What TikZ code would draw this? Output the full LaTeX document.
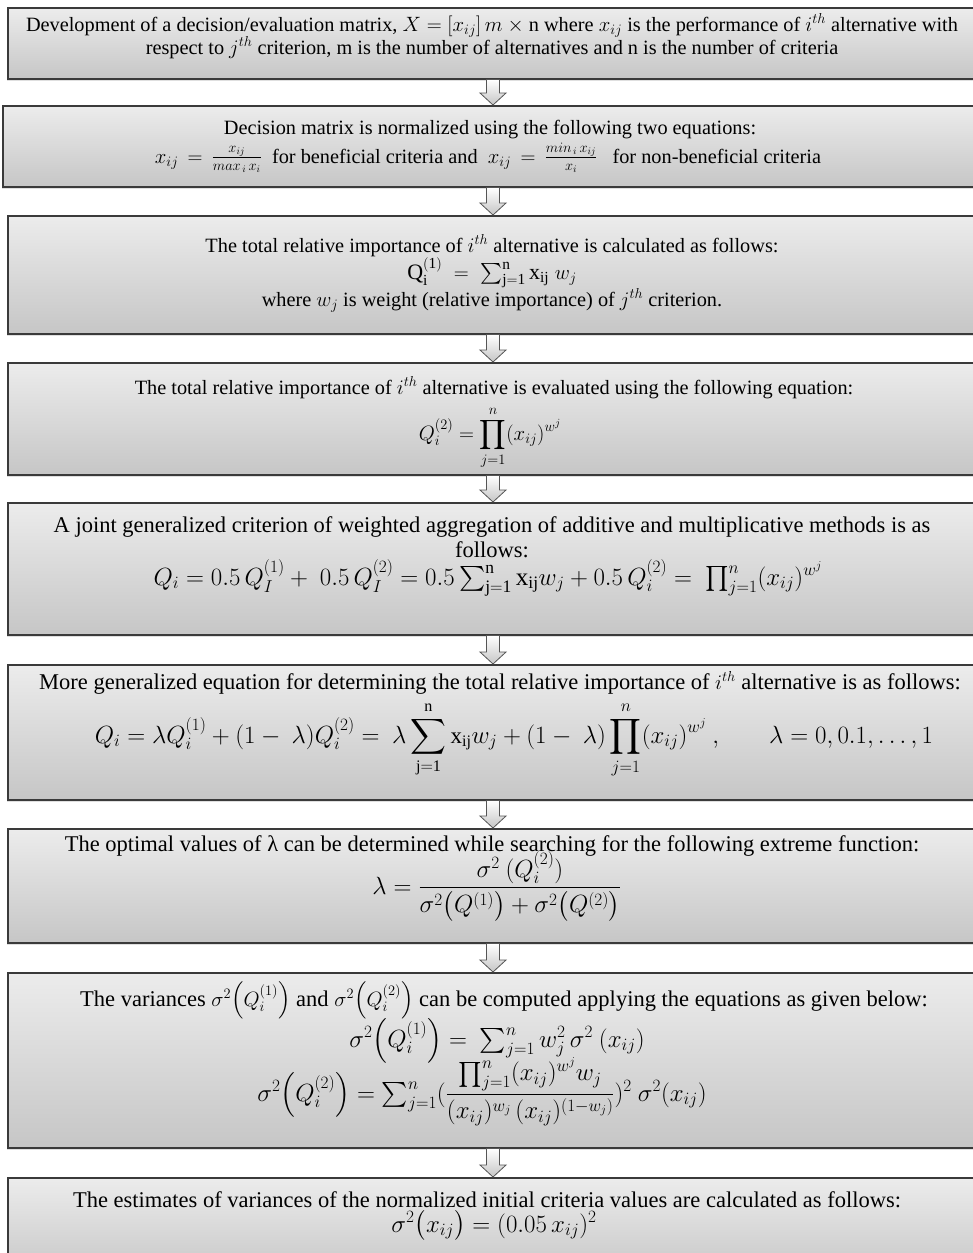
\documentclass[tikz,border=0pt]{standalone}
\usepackage{amsmath}
\usepackage{fontspec}
\setmainfont{Liberation Serif}
\usetikzlibrary{calc,shadows}
\definecolor{boxtop}{HTML}{ECECEC}
\definecolor{boxbot}{HTML}{C6C6C6}
\definecolor{boxline}{HTML}{3A3A3A}
\definecolor{arrline}{HTML}{555555}
\begin{document}
\begin{tikzpicture}[x=1pt,y=-1pt,
  box/.style={draw=boxline, line width=1.5pt, top color=boxtop, bottom color=boxbot,
    minimum width=970pt, anchor=north, inner sep=0pt,
    drop shadow={shadow xshift=-1.5pt, shadow yshift=-2pt, opacity=0.25}},
  tla/.style={font=\fontsize{20.3}{24}\selectfont, inner sep=0pt, anchor=base},
  tlb/.style={font=\fontsize{22.5}{27}\selectfont, inner sep=0pt, anchor=base},
  fs/.style={font=\fontsize{#1}{#1}\selectfont, inner sep=0pt, anchor=base},
  flowarr/.style={draw=arrline, line width=0.8pt, top color=white, bottom color=gray!45}]
\useasboundingbox (0,0) rectangle (973,1253);
\clip (0,0) rectangle (973,1253);
% boxes
\node[box, minimum height=71pt] (b1) at (493,7) {};
\node[box, minimum height=81pt, minimum width=980pt] (b2) at (493,105) {};
\node[box, minimum height=118pt] (b3) at (493,215) {};
\node[box, minimum height=112pt] (b4) at (493,362) {};
\node[box, minimum height=132pt] (b5) at (493,502) {};
\node[box, minimum height=135pt] (b6) at (493,664) {};
\node[box, minimum height=114pt] (b7) at (493,828) {};
\node[box, minimum height=175pt] (b8) at (493,972) {};
\node[box, minimum height=100pt] (b9) at (493,1177) {};
% arrows
\foreach \a/\b in {b1/b2,b2/b3,b3/b4,b4/b5,b5/b6,b6/b7,b7/b8,b8/b9}{
  \draw[flowarr] let \p1=(\a.south), \p2=(\b.north) in
    (\x1-6.5pt,\y1) -- (\x1-6.5pt,\y2+12pt) -- (\x1-13pt,\y2+12pt) -- (\x1,\y2)
    -- (\x1+13pt,\y2+12pt) -- (\x1+6.5pt,\y2+12pt) -- (\x1+6.5pt,\y1) -- cycle;
}
% box 1
\node[tla] (t1a) at (492,31) {Development of a decision/evaluation matrix, $X=\left[x_{ij}\right] m\ \times$ n where $x_{ij}$ is the performance of $i^{th}$ alternative with};
\node[tla] (t1b) at (492,54) {respect to $j^{th}$ criterion, m is the number of alternatives and n is the number of criteria};
% box 2
\node[tla] (t2a) at (490,134) {Decision matrix is normalized using the following two equations:};
\node[tla] (t2b) at (488,163) {$x_{ij}\,=\,\frac{x_{ij}}{max_{\,i}\,x_i}$\ \ for beneficial criteria and \ $x_{ij}\,=\,\frac{min_{\,i}\,x_{ij}}{x_i}$\ \ \ for non-beneficial criteria};
% box 3
\node[tla] (t3a) at (492,252) {The total relative importance of $i^{th}$ alternative is calculated as follows:};
\node[fs=22] (t3b) at (492,279) {$\mathrm{Q_i^{(1)}}\;=\;\sum_{\mathrm{j=1}}^{\mathrm{n}}\mathrm{x_{ij}}\;w_j$};
\node[tla] (t3c) at (492,306) {where $w_j$ is weight (relative importance) of $j^{th}$ criterion.};
% box 4
\node[tla] (t4a) at (494,394) {The total relative importance of $i^{th}$ alternative is evaluated using the following equation:};
\node[fs=22] (t4b) at (490,440) {$\displaystyle Q_i^{(2)}=\prod_{j=1}^{n}(x_{ij})^{w^j}$};
% box 5
\node[tlb] (t5a) at (492,532) {A joint generalized criterion of weighted aggregation of additive and multiplicative methods is as};
\node[tlb] (t5b) at (492,557) {follows:};
\node[fs=25] (t5c) at (488,585) {$Q_i=0.5\,Q_I^{(1)}+\ 0.5\,Q_I^{(2)}=0.5\sum_{\mathrm{j=1}}^{\mathrm{n}}\mathrm{x_{ij}}w_j+0.5\,Q_i^{(2)}=\ \prod_{j=1}^{n}(x_{ij})^{w^j}$};
% box 6
\node[tlb] (t6a) at (500,689) {More generalized equation for determining the total relative importance of $i^{th}$ alternative is as follows:};
\node[fs=23] (t6b) at (514,743) {$\displaystyle Q_i=\lambda Q_i^{(1)}+(1-\ \lambda)Q_i^{(2)}=\ \lambda\sum_{\mathrm{j=1}}^{\mathrm{n}}\mathrm{x_{ij}}w_j+(1-\ \lambda)\prod_{j=1}^{n}(x_{ij})^{w^j}\ ,\qquad \lambda=0,0.1,\ldots,1$};
% box 7
\node[tlb] (t7a) at (492,851) {The optimal values of λ can be determined while searching for the following extreme function:};
\node[fs=23] (t7b) at (497,894) {$\displaystyle \lambda=\frac{\sigma^2\ (Q_i^{(2)})}{\sigma^2\bigl(Q^{(1)}\bigr)+\sigma^2\bigl(Q^{(2)}\bigr)}$};
% box 8
\node[tlb] (t8a) at (504,1006) {The variances $\sigma^2\Bigl(Q_i^{(1)}\Bigr)$ and $\sigma^2\Bigl(Q_i^{(2)}\Bigr)$ can be computed applying the equations as given below:};
\node[fs=24] (t8b) at (497,1047) {$\sigma^2\Bigl(Q_i^{(1)}\Bigr)=\ \sum_{j=1}^{n}w_j^2\,\sigma^2\ (x_{ij})$};
\node[fs=24] (t8c) at (482,1101) {$\sigma^2\Bigl(Q_i^{(2)}\Bigr)=\sum_{j=1}^{n}(\dfrac{\prod_{j=1}^{n}(x_{ij})^{w^j}w_j}{(x_{ij})^{w_j}\,(x_{ij})^{(1-w_j)}})^2\ \sigma^2(x_{ij})$};
% box 9
\node[tlb] (t9a) at (487,1207) {The estimates of variances of the normalized initial criteria values are calculated as follows:};
\node[fs=26] (t9b) at (494,1232) {$\sigma^2\bigl(x_{ij}\bigr)=(0.05\,x_{ij})^2$};
\end{tikzpicture}
\end{document}
